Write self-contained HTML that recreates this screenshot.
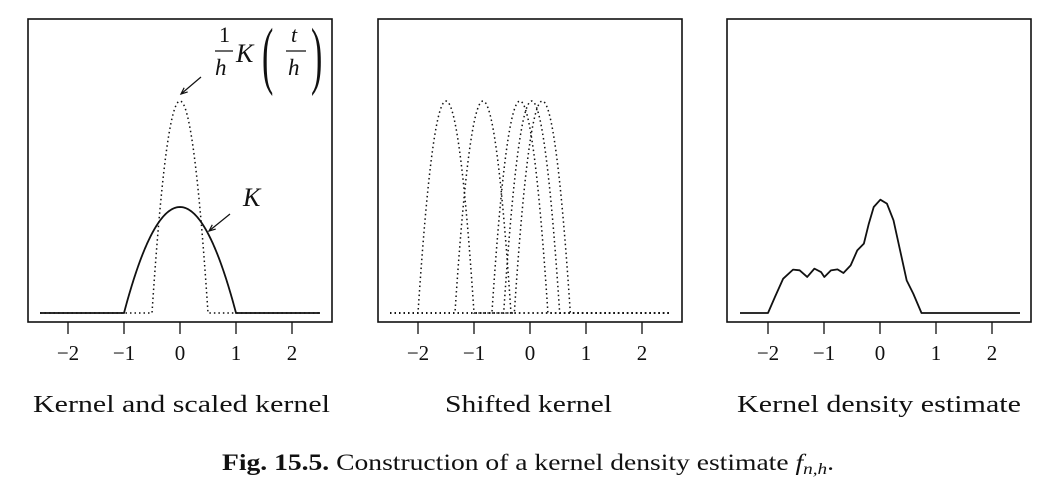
<!DOCTYPE html>
<html><head><meta charset="utf-8"><style>
html,body{margin:0;padding:0;background:#fff;}
svg{display:block;font-family:"Liberation Serif",serif;}
</style></head><body>
<svg id="fig" width="1064" height="482" viewBox="0 0 1064 482">
<g id="root"></g>
</svg>
<script>
// Kernel parameters
const kernelPeak = [0.75];
const bandwidth = [0.5];
// Shifted kernel centers (panel 2)
const shiftCenters = [-1.5, -0.84, -0.18, 0.03, 0.22];
// KDE curve (panel 3)
const kdeX = [-2.5,-2.0,-1.876,-1.729,-1.553,-1.435,-1.3,-1.171,-1.053,-0.994,-0.876,-0.759,-0.653,-0.524,-0.406,-0.288,-0.2,-0.112,0.006,0.124,0.241,0.359,0.476,0.594,0.741,2.5];
const kdeY = [0,0,0.113,0.243,0.307,0.302,0.255,0.314,0.290,0.255,0.302,0.309,0.283,0.337,0.443,0.491,0.632,0.75,0.802,0.774,0.656,0.443,0.231,0.137,0,0];
const tickVals = [-2,-1,0,1,2];
const tickLabels = ["\u22122","\u22121","0","1","2"];
const panelTitles = ["Kernel and scaled kernel","Shifted kernel","Kernel density estimate"];

const NS="http://www.w3.org/2000/svg";
const root=document.getElementById('root');
const panels=[{left:28,zero:180,tx:33,tw:297},{left:378,zero:530,tx:445,tw:167},{left:727,zero:880,tx:737,tw:284}];
const plotTop=19,plotBottom=322,W=304,base=313,pxU=56,pxV=141.3;
function mk(tag,attrs,parent){const e=document.createElementNS(NS,tag);for(const k in attrs)e.setAttribute(k,attrs[k]);(parent||root).appendChild(e);return e;}
function sx(p,v){return panels[p].zero+v*pxU;}
function sy(v){return base-v*pxV;}
function epan(t,h){const u=t/h;return Math.abs(u)<=1?kernelPeak[0]*(1-u*u)/h:0;}
function kernelPath(p,c,h,step){let d='';for(let t=-2.5;t<=2.5001;t+=step){d+=(d?'L':'M')+sx(p,t).toFixed(2)+','+sy(epan(t-c,h)).toFixed(2);}return d;}

panels.forEach((pn,i)=>{
  const g=mk('g',{});
  
  
  const r=mk('rect',{x:pn.left,y:plotTop,width:W,height:plotBottom-plotTop,fill:'none',stroke:'#111','stroke-width':1.6},g);
  
  
  tickVals.forEach((v,j)=>{
    const t=mk('line',{x1:sx(i,v),x2:sx(i,v),y1:plotBottom,y2:plotBottom+12,stroke:'#111','stroke-width':1.3},g);
    
    
    const l=mk('text',{x:sx(i,v),y:360,'font-size':21,'text-anchor':'middle',fill:'#111'},g);
    l.textContent=tickLabels[j];
    
    
  });
  const tt=mk('text',{x:pn.tx,y:412,'font-size':24,textLength:pn.tw,lengthAdjust:'spacingAndGlyphs',fill:'#111'},g);
  tt.textContent=panelTitles[i];
  
  
});

// Panel 1
let k=mk('path',{d:kernelPath(0,0,1,0.01),fill:'none',stroke:'#111','stroke-width':1.8});


let ks=mk('path',{d:kernelPath(0,0,bandwidth[0],0.01),fill:'none',stroke:'#111','stroke-width':1.5,'stroke-dasharray':'1.5,3'});



// Panel 2
shiftCenters.forEach(c=>{
  const p=mk('path',{d:kernelPath(1,c,bandwidth[0],0.01),fill:'none',stroke:'#111','stroke-width':1.5,'stroke-dasharray':'1.5,3'});
  
  
});

// Panel 3
let dd='';kdeX.forEach((x,i)=>{dd+=(i?'L':'M')+sx(2,x).toFixed(2)+','+sy(kdeY[i]).toFixed(2);});
let kd=mk('path',{d:dd,fill:'none',stroke:'#111','stroke-width':1.8,'stroke-linejoin':'round'});



// Annotations
function arrow(x1,y1,x2,y2,name){
  const g=mk('g',{});
  
  
  mk('line',{x1:x1,y1:y1,x2:x2,y2:y2,stroke:'#111','stroke-width':1.2},g);
  const a=Math.atan2(y2-y1,x2-x1),L=7;
  const p1=[x2-L*Math.cos(a-0.4),y2-L*Math.sin(a-0.4)],p2=[x2-L*Math.cos(a+0.4),y2-L*Math.sin(a+0.4)];
  mk('path',{d:`M${p1[0]},${p1[1]}L${x2},${y2}L${p2[0]},${p2[1]}`,fill:'none',stroke:'#111','stroke-width':1.2},g);
}
arrow(201,77,181,94,'scaled-kernel-arrow');
arrow(230,214,209,231,'kernel-arrow');
</script>
<svg style="position:absolute;left:0;top:0" width="1064" height="482">
<g font-family="Liberation Serif, serif" fill="#111">
<text x="219" y="42" font-size="22">1</text>
<line x1="215" y1="51" x2="233" y2="51" stroke="#111" stroke-width="1.3"/>
<text x="215" y="75" font-size="23" font-style="italic">h</text>
<text x="236" y="62" font-size="26" font-style="italic">K</text>
<text transform="translate(262,80) scale(1,2.2)" font-size="34">(</text>
<text x="291" y="42" font-size="22" font-style="italic">t</text>
<line x1="286" y1="51" x2="306" y2="51" stroke="#111" stroke-width="1.3"/>
<text x="288" y="75" font-size="23" font-style="italic">h</text>
<text transform="translate(311,80) scale(1,2.2)" font-size="34">)</text>
<text x="243" y="206" font-size="26" font-style="italic">K</text>
<text x="222" y="470" font-size="23" textLength="612" lengthAdjust="spacingAndGlyphs"><tspan font-weight="bold">Fig. 15.5.</tspan> Construction of a kernel density estimate <tspan font-style="italic">f</tspan><tspan font-style="italic" font-size="16" dy="4">n,h</tspan><tspan dy="-4">.</tspan></text>
</g>
</svg>
</body></html>
